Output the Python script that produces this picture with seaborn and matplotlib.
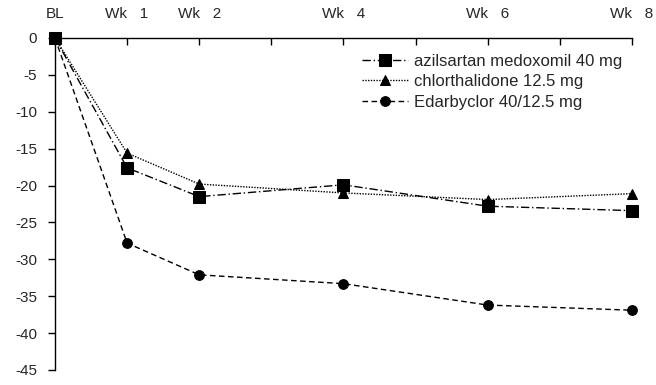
import pandas as pd
import matplotlib
matplotlib.use("Agg")
import matplotlib.pyplot as plt
import seaborn as sns

OUTPUT_FILE = "out.png"

weeks = [0, 1, 2, 4, 6, 8]
tick_weeks = [0, 1, 2, 3, 4, 5, 6, 7, 8]
tick_labels = ["BL", "Wk   1", "Wk   2", "", "Wk   4", "", "Wk   6", "", "Wk   8"]

treatments = ["azilsartan medoxomil 40 mg", "chlorthalidone 12.5 mg", "Edarbyclor 40/12.5 mg"]
azilsartan = [0, -17.6, -21.5, -19.9, -22.8, -23.4]
chlorthalidone = [0, -15.6, -19.8, -21.0, -21.9, -21.1]
edarbyclor = [0, -27.8, -32.1, -33.3, -36.2, -36.9]


def build_frame():
    """Long-form table for seaborn."""
    rows = []
    for name, vals in zip(treatments, [azilsartan, chlorthalidone, edarbyclor]):
        for w, v in zip(weeks, vals):
            rows.append({"week": w, "change": v, "treatment": name})
    return pd.DataFrame(rows)


def plot_chart(df, output_path):
    sns.set_style("white")
    plt.rcParams["font.family"] = ["Liberation Sans", "DejaVu Sans"]
    plt.rcParams["axes.unicode_minus"] = False

    fig = plt.figure(figsize=(6.56, 3.85), dpi=100)
    ax = fig.add_axes([0.0838, 0.039, 0.8796, 0.8623])

    markers = {treatments[0]: "s", treatments[1]: "^", treatments[2]: "o"}
    dashes = {treatments[0]: (6, 2, 1, 2), treatments[1]: (1, 1), treatments[2]: (4, 2.5)}
    sizes = {treatments[0]: 8.5, treatments[1]: 7.5, treatments[2]: 7}

    for name in treatments:
        sub = df[df["treatment"] == name]
        sns.lineplot(data=sub, x="week", y="change", ax=ax, color="black",
                     marker=markers[name], markersize=sizes[name], dashes=False,
                     markeredgecolor="black", linewidth=1, label=name,
                     clip_on=False, zorder=3)
        ax.lines[-1].set_dashes(dashes[name])

    ax.set_xlim(0, 8)
    ax.set_ylim(-45, 0)
    ax.set_yticks(range(-45, 1, 5))
    ax.set_xticks(tick_weeks)
    ax.set_xticklabels(tick_labels)
    ax.xaxis.tick_top()
    ax.tick_params(axis="x", direction="in", length=5, width=1, color="black",
                   labelsize=11, pad=12)
    ax.tick_params(axis="y", direction="out", length=5, width=1, color="black",
                   labelsize=11, pad=8)
    ax.tick_params(axis="x", which="both", bottom=False, top=True)
    ax.tick_params(axis="y", left=True)
    ax.set_xlabel("")
    ax.set_ylabel("")

    for side in ["bottom", "right"]:
        ax.spines[side].set_visible(False)
    for side in ["top", "left"]:
        ax.spines[side].set_color("black")
        ax.spines[side].set_linewidth(1)

    ax.legend(loc="upper left", bbox_to_anchor=(0.52, 0.972), frameon=False,
              fontsize=12, handlelength=2.8, handletextpad=0.35, labelspacing=0.32,
              borderaxespad=0)

    fig.savefig(output_path, dpi=100)
    plt.close(fig)


if __name__ == "__main__":
    data = build_frame()
    plot_chart(data, OUTPUT_FILE)
